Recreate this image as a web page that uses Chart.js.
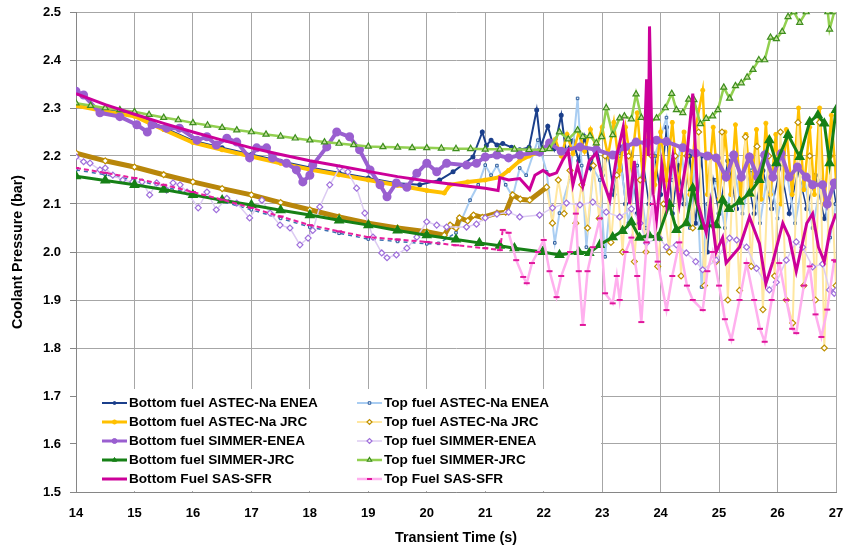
<!DOCTYPE html>
<html lang="en">
<head>
<meta charset="UTF-8">
<title>Coolant pressure</title>
<script src="https://cdn.jsdelivr.net/npm/chart.js"></script>
<style>
    html, body { margin: 0; padding: 0; background: #fff; }
    #wrap { width: 845px; height: 551px; position: relative; }
</style>
</head>
<body>
<div id="wrap"><canvas id="chart"></canvas></div>
<script>
// [time (s), pressure (bar)]
const bottomAstecEnea = [[14,2.309],[14.5,2.297],[15,2.287],[15.5,2.259],[16,2.232],[16.5,2.217],[17,2.203],[17.5,2.189],[18,2.176],[18.5,2.165],[19,2.154],[19.5,2.143],[19.88,2.140],[20.22,2.150],[20.45,2.167],[20.79,2.198],[20.95,2.250],[21.02,2.222],[21.1,2.233],[21.2,2.223],[21.3,2.226],[21.45,2.218],[21.59,2.213],[21.75,2.218],[21.88,2.296],[21.95,2.220],[22.07,2.262],[22.18,2.215],[22.3,2.285],[22.38,2.210],[22.5,2.232],[22.6,2.190],[22.7,2.240],[22.8,2.175],[22.9,2.222],[23.0,2.160],[23.1,2.205],[23.2,2.120],[23.3,2.220],[23.4,2.100],[23.5,2.200],[23.6,2.080],[23.7,2.190],[23.8,2.100],[23.9,2.200],[24.0,2.120],[24.1,2.260],[24.2,2.080],[24.3,2.180],[24.4,2.100],[24.5,2.200],[24.6,2.060],[24.7,2.200],[24.8,2.000],[24.9,2.150],[25.0,2.080],[25.15,2.190],[25.3,2.090],[25.45,2.180],[25.6,2.080],[25.75,2.170],[25.9,2.090],[26.05,2.180],[26.2,2.080],[26.35,2.170],[26.5,2.090],[26.65,2.160],[26.8,2.070],[26.95,2.140],[27,2.100]];

const topAstecEnea = [[14,2.171],[14.5,2.161],[15,2.150],[15.5,2.136],[16,2.121],[16.5,2.105],[17,2.088],[17.5,2.070],[18,2.052],[18.5,2.039],[19,2.027],[19.5,2.022],[20,2.017],[20.2,2.018],[20.5,2.040],[20.74,2.108],[20.88,2.140],[21.0,2.181],[21.1,2.160],[21.2,2.180],[21.35,2.140],[21.47,2.115],[21.59,2.175],[21.7,2.160],[21.9,2.233],[22.05,2.167],[22.19,2.019],[22.27,2.081],[22.45,2.154],[22.58,2.320],[22.65,2.180],[22.73,2.010],[22.85,2.173],[22.96,2.150],[23.05,1.990],[23.15,2.120],[23.3,2.200],[23.45,2.060],[23.6,2.180],[23.75,2.050],[23.9,2.200],[24.1,2.280],[24.2,2.150],[24.35,2.220],[24.5,2.050],[24.6,2.200],[24.7,1.927],[24.8,2.100],[24.95,2.150],[25.1,2.050],[25.25,2.180],[25.4,2.080],[25.55,2.170],[25.7,2.060],[25.85,2.180],[26.0,2.070],[26.15,2.170],[26.3,2.060],[26.45,2.160],[26.6,2.050],[26.75,2.150],[26.9,2.030],[27,2.100]];

const bottomAstecJrc = [[14,2.305],[14.5,2.293],[15,2.283],[15.5,2.255],[16,2.228],[16.5,2.213],[17,2.199],[17.5,2.185],[18,2.172],[18.5,2.161],[19,2.150],[19.5,2.139],[20,2.128],[20.3,2.123],[20.4,2.140],[20.7,2.146],[21.0,2.150],[21.25,2.156],[21.4,2.170],[21.59,2.190],[21.75,2.200],[21.93,2.210],[22.1,2.220],[22.2,2.235],[22.3,2.200],[22.4,2.245],[22.5,2.205],[22.6,2.250],[22.7,2.210],[22.8,2.255],[22.9,2.215],[23.0,2.260],[23.1,2.200],[23.2,2.270],[23.3,2.170],[23.4,2.260],[23.5,2.180],[23.6,2.290],[23.7,2.150],[23.8,2.270],[23.9,2.140],[24.0,2.250],[24.1,2.150],[24.2,2.270],[24.3,2.130],[24.4,2.250],[24.5,2.120],[24.6,2.260],[24.72,2.337],[24.8,2.120],[24.9,2.260],[25.0,2.110],[25.1,2.250],[25.2,2.120],[25.28,2.265],[25.37,2.110],[25.46,2.245],[25.55,2.120],[25.64,2.255],[25.72,2.110],[25.8,2.268],[25.88,2.120],[25.97,2.245],[26.06,2.100],[26.15,2.255],[26.25,2.120],[26.36,2.300],[26.45,2.130],[26.55,2.260],[26.63,2.120],[26.72,2.300],[26.8,2.100],[26.92,2.285],[27,2.150]];

const topAstecJrc = [[14,2.206],[14.5,2.190],[15,2.177],[15.5,2.161],[16,2.146],[16.5,2.132],[17,2.119],[17.5,2.103],[18,2.088],[18.5,2.073],[19,2.060],[19.5,2.050],[20,2.042],[20.3,2.035],[20.4,2.056],[20.5,2.050],[20.56,2.071],[20.7,2.065],[20.8,2.077],[20.95,2.072],[21.2,2.081],[21.35,2.083],[21.47,2.119],[21.6,2.110],[21.76,2.108],[22.05,2.135],[22.15,2.060],[22.25,2.150],[22.35,2.080],[22.45,2.170],[22.55,2.060],[22.65,2.140],[22.75,2.050],[22.85,2.180],[22.95,2.070],[23.05,2.200],[23.15,2.020],[23.25,2.160],[23.35,2.000],[23.45,2.200],[23.55,1.980],[23.65,2.150],[23.75,2.000],[23.85,2.200],[23.95,1.970],[24.05,2.100],[24.15,2.000],[24.25,2.200],[24.35,1.950],[24.45,2.200],[24.55,2.050],[24.65,2.250],[24.75,1.930],[24.85,2.200],[24.95,1.980],[25.05,2.250],[25.15,1.900],[25.25,2.200],[25.35,1.920],[25.45,2.240],[25.55,1.970],[25.65,2.220],[25.75,1.880],[25.85,2.200],[25.95,1.950],[26.05,2.250],[26.15,1.900],[26.26,1.852],[26.35,2.270],[26.45,1.930],[26.55,2.200],[26.65,1.900],[26.72,2.270],[26.8,1.800],[26.9,2.200],[27,1.930]];

const bottomSimmerEnea = [[14,2.335],[14.13,2.327],[14.41,2.290],[14.75,2.282],[15.04,2.265],[15.22,2.250],[15.3,2.265],[15.55,2.258],[15.77,2.258],[16.07,2.233],[16.24,2.240],[16.4,2.223],[16.58,2.237],[16.75,2.229],[16.97,2.196],[17.09,2.217],[17.26,2.217],[17.36,2.196],[17.6,2.185],[17.77,2.171],[17.88,2.146],[18.0,2.160],[18.05,2.181],[18.29,2.219],[18.46,2.250],[18.68,2.240],[18.85,2.213],[19.03,2.171],[19.2,2.140],[19.32,2.115],[19.48,2.144],[19.66,2.135],[19.83,2.164],[20.0,2.185],[20.17,2.167],[20.34,2.185],[20.68,2.181],[20.85,2.185],[21.0,2.198],[21.2,2.202],[21.4,2.196],[21.59,2.202],[21.93,2.208],[22.1,2.227],[22.3,2.210],[22.62,2.219],[22.9,2.213],[23.18,2.202],[23.4,2.219],[23.58,2.229],[23.76,2.227],[23.93,2.233],[24.1,2.230],[24.38,2.217],[24.6,2.206],[24.8,2.200],[24.95,2.196],[25.12,2.156],[25.25,2.202],[25.38,2.156],[25.52,2.198],[25.66,2.156],[25.78,2.202],[25.92,2.156],[26.06,2.205],[26.2,2.156],[26.34,2.177],[26.49,2.156],[26.6,2.140],[26.77,2.140],[26.85,2.100],[26.97,2.144],[27,2.140]];

const topSimmerEnea = [[14,2.198],[14.13,2.188],[14.24,2.185],[14.41,2.171],[14.5,2.175],[14.63,2.160],[14.8,2.150],[14.97,2.146],[15.13,2.146],[15.26,2.119],[15.38,2.144],[15.55,2.129],[15.66,2.144],[15.78,2.140],[15.9,2.125],[16.09,2.092],[16.24,2.125],[16.4,2.088],[16.58,2.112],[16.75,2.102],[16.97,2.071],[17.18,2.108],[17.32,2.081],[17.49,2.056],[17.66,2.050],[17.83,2.015],[17.97,2.029],[18.05,2.045],[18.17,2.094],[18.34,2.140],[18.51,2.175],[18.65,2.167],[18.8,2.133],[18.94,2.081],[19.08,2.031],[19.23,1.998],[19.32,1.988],[19.48,1.994],[19.66,2.008],[19.83,2.031],[20.0,2.063],[20.17,2.056],[20.34,2.052],[20.68,2.052],[20.85,2.058],[21.0,2.071],[21.2,2.079],[21.4,2.083],[21.59,2.073],[21.93,2.077],[22.15,2.092],[22.39,2.102],[22.62,2.098],[22.84,2.104],[23.07,2.083],[23.3,2.073],[23.5,2.090],[23.65,2.060],[23.76,2.019],[23.98,2.029],[24.1,2.010],[24.27,2.015],[24.44,1.998],[24.6,1.980],[24.72,1.963],[24.95,1.983],[25.18,2.029],[25.3,2.025],[25.47,2.010],[25.64,1.966],[25.86,1.921],[25.98,1.937],[26.15,1.983],[26.32,2.021],[26.43,2.010],[26.6,1.969],[26.77,1.975],[26.89,1.921],[26.97,1.914],[27,1.920]];

const bottomSimmerJrc = [[14,2.158],[14.5,2.149],[15,2.140],[15.5,2.130],[16,2.119],[16.5,2.108],[17,2.098],[17.5,2.087],[18,2.077],[18.5,2.066],[19,2.056],[19.5,2.045],[20,2.035],[20.5,2.026],[20.9,2.019],[21.25,2.013],[21.5,2.008],[21.98,2.000],[22.27,1.994],[22.6,2.000],[22.78,1.998],[22.96,2.015],[23.18,2.031],[23.35,2.044],[23.5,2.062],[23.64,2.030],[23.8,2.035],[23.95,2.030],[24.15,2.100],[24.27,2.046],[24.44,2.060],[24.55,2.133],[24.72,2.053],[24.95,2.056],[25.06,2.108],[25.17,2.090],[25.35,2.105],[25.52,2.122],[25.69,2.150],[25.86,2.233],[25.98,2.185],[26.18,2.244],[26.38,2.198],[26.55,2.271],[26.69,2.285],[26.8,2.268],[26.89,2.185],[27,2.296]];

const topSimmerJrc = [[14,2.310],[14.25,2.305],[14.5,2.300],[14.75,2.296],[15,2.292],[15.25,2.286],[15.5,2.280],[15.75,2.275],[16,2.269],[16.25,2.264],[16.5,2.259],[16.75,2.254],[17,2.250],[17.25,2.245],[17.5,2.241],[17.75,2.237],[18,2.233],[18.25,2.229],[18.5,2.226],[18.75,2.223],[19,2.220],[19.25,2.219],[19.5,2.218],[19.75,2.217],[20,2.217],[20.25,2.216],[20.5,2.215],[20.75,2.215],[21,2.214],[21.25,2.214],[21.5,2.214],[21.75,2.213],[21.98,2.213],[22.1,2.215],[22.27,2.250],[22.42,2.235],[22.58,2.254],[22.67,2.240],[22.79,2.242],[22.9,2.227],[22.99,2.240],[23.07,2.300],[23.18,2.244],[23.3,2.279],[23.38,2.283],[23.5,2.277],[23.58,2.329],[23.67,2.280],[23.8,2.269],[23.93,2.279],[24.08,2.300],[24.19,2.330],[24.27,2.296],[24.38,2.290],[24.48,2.318],[24.57,2.317],[24.68,2.267],[24.78,2.278],[24.89,2.283],[24.98,2.296],[25.08,2.343],[25.18,2.320],[25.28,2.346],[25.38,2.352],[25.48,2.364],[25.58,2.380],[25.68,2.400],[25.78,2.400],[25.88,2.447],[25.98,2.444],[26.08,2.459],[26.18,2.490],[26.28,2.500],[26.38,2.478],[26.49,2.500],[26.6,2.530],[26.75,2.530],[26.86,2.500],[26.89,2.464],[26.97,2.500],[27,2.520]];

const bottomSas = [[14,2.330],[14.5,2.307],[15,2.287],[15.5,2.268],[16,2.250],[16.5,2.233],[17,2.217],[17.5,2.203],[18,2.190],[18.5,2.179],[19,2.168],[19.5,2.157],[20,2.148],[20.5,2.140],[21,2.133],[21.22,2.128],[21.25,2.155],[21.4,2.150],[21.59,2.153],[21.76,2.130],[21.85,2.160],[21.99,2.170],[22.1,2.160],[22.22,2.165],[22.32,2.190],[22.42,2.210],[22.5,2.140],[22.58,2.180],[22.67,2.137],[22.78,2.190],[22.9,2.206],[23.01,2.150],[23.13,2.108],[23.25,2.200],[23.36,2.260],[23.47,2.100],[23.55,2.190],[23.64,2.046],[23.7,2.150],[23.76,2.360],[23.79,2.200],[23.81,2.470],[23.87,2.120],[23.93,2.067],[24.02,2.180],[24.1,2.100],[24.21,2.200],[24.32,2.100],[24.44,2.190],[24.55,2.330],[24.64,2.100],[24.78,2.040],[24.85,2.100],[24.95,2.000],[25.06,2.030],[25.12,1.977],[25.35,2.010],[25.52,2.073],[25.69,2.018],[25.8,1.934],[25.92,1.980],[26.09,2.060],[26.2,2.031],[26.32,1.960],[26.5,2.060],[26.6,2.080],[26.7,2.010],[26.8,1.980],[26.9,2.046],[27,2.080]];

const topSas = [[14,2.175],[14.5,2.165],[15,2.154],[15.5,2.140],[16,2.125],[16.5,2.109],[17,2.092],[17.5,2.074],[18,2.056],[18.5,2.043],[19,2.031],[19.5,2.026],[20,2.021],[20.5,2.014],[21,2.008],[21.25,2.004],[21.3,2.046],[21.4,2.040],[21.53,1.983],[21.65,1.948],[21.71,1.935],[21.8,1.977],[21.9,2.000],[22.0,2.025],[22.1,1.960],[22.22,1.906],[22.3,1.950],[22.45,2.000],[22.55,2.080],[22.6,1.960],[22.67,1.848],[22.75,1.960],[22.84,2.010],[22.96,2.070],[23.05,1.914],[23.18,1.893],[23.25,1.950],[23.3,1.900],[23.4,2.000],[23.5,2.030],[23.6,1.950],[23.67,1.854],[23.76,2.020],[23.86,2.100],[23.95,1.980],[24.1,1.879],[24.2,1.950],[24.32,2.020],[24.45,1.930],[24.55,1.900],[24.72,1.879],[24.8,1.960],[24.89,2.000],[25.0,1.930],[25.1,1.860],[25.21,1.817],[25.35,1.900],[25.47,1.977],[25.6,1.900],[25.7,1.840],[25.78,1.813],[25.9,1.900],[26.03,1.977],[26.15,1.900],[26.25,1.840],[26.32,1.831],[26.45,1.930],[26.55,1.970],[26.65,1.870],[26.75,1.823],[26.85,1.880],[26.97,1.983],[27,1.980]];

const xTicks = [14, 15, 16, 17, 18, 19, 20, 21, 22, 23, 24, 25, 26, 27];
const yTicks = [1.5, 1.6, 1.7, 1.8, 1.9, 2.0, 2.1, 2.2, 2.3, 2.4, 2.5];

const FONT = '"Liberation Sans", Arial, sans-serif';

function pts(arr) {
    return arr.map(d => ({ x: d[0], y: d[1] }));
}

// early (dense marker) stretch styled like the reference
function before(limit, early) {
    return ctx => ctx.p0.parsed.x < limit ? early : undefined;
}
function after(limit, late) {
    return ctx => ctx.p0.parsed.x >= limit ? late : undefined;
}

const datasets = [
    {
        label: 'Bottom fuel ASTEC-Na ENEA', data: pts(bottomAstecEnea), order: 10,
        borderColor: '#1B3F8B', borderWidth: 2,
        segment: { borderWidth: after(23, 1.5) },
        pointStyle: 'circle', pointRadius: 1.5, pointBackgroundColor: '#1B3F8B', pointBorderColor: '#1B3F8B',
        legendCol: 0, legendRow: 0
    },
    {
        label: 'Top fuel ASTEC-Na ENEA', data: pts(topAstecEnea), order: 9,
        borderColor: '#A9CDF2', borderWidth: 2,
        segment: { borderColor: before(20.3, '#3A6FB0'), borderDash: before(20.3, [4, 4]), borderWidth: before(20.3, 1.5) },
        pointStyle: 'rect', pointRadius: 1.8, pointBackgroundColor: '#DDEBF7', pointBorderColor: '#2F5E9E', pointBorderWidth: 1,
        legendCol: 1, legendRow: 0
    },
    {
        label: 'Bottom fuel ASTEC-Na JRC', data: pts(bottomAstecJrc), order: 8,
        borderColor: '#FFC000', borderWidth: 4,
        segment: { borderWidth: after(22.2, 2.5) },
        pointStyle: 'star', pointRadius: 2.5, pointBorderColor: '#FFC000', pointBackgroundColor: '#FFC000', pointBorderWidth: 1.5,
        legendCol: 0, legendRow: 1
    },
    {
        label: 'Top fuel ASTEC-Na JRC', data: pts(topAstecJrc), order: 7,
        borderColor: '#FFE7A0', borderWidth: 2,
        segment: { borderColor: before(22.05, '#B8860B'), borderWidth: before(22.05, 5) },
        pointStyle: 'rectRot', pointRadius: 3, pointBackgroundColor: '#FFFFFF', pointBorderColor: '#BF9000', pointBorderWidth: 1.2,
        legendCol: 1, legendRow: 1
    },
    {
        label: 'Bottom fuel SIMMER-ENEA', data: pts(bottomSimmerEnea), order: 6,
        borderColor: '#9A5FD0', borderWidth: 4,
        pointStyle: 'circle', pointRadius: 2.5, pointBackgroundColor: '#9A5FD0', pointBorderColor: '#9A5FD0',
        legendCol: 0, legendRow: 2
    },
    {
        label: 'Top fuel SIMMER-ENEA', data: pts(topSimmerEnea), order: 5,
        borderColor: '#DCCBF2', borderWidth: 1.5,
        pointStyle: 'rectRot', pointRadius: 3, pointBackgroundColor: '#FFFFFF', pointBorderColor: '#9F6FDB', pointBorderWidth: 1.2,
        legendCol: 1, legendRow: 2
    },
    {
        label: 'Bottom fuel SIMMER-JRC', data: pts(bottomSimmerJrc), order: 4,
        borderColor: '#168016', borderWidth: 3,
        pointStyle: 'triangle', pointRadius: 3.2, pointBackgroundColor: '#168016', pointBorderColor: '#168016',
        legendCol: 0, legendRow: 3
    },
    {
        label: 'Top fuel SIMMER-JRC', data: pts(topSimmerJrc), order: 3,
        borderColor: '#92D050', borderWidth: 2.5,
        pointStyle: 'triangle', pointRadius: 3.5, pointBackgroundColor: '#C6E0A0', pointBorderColor: '#3E8E1E', pointBorderWidth: 1.2,
        legendCol: 1, legendRow: 3
    },
    {
        label: 'Bottom Fuel SAS-SFR', data: pts(bottomSas), order: 2,
        borderColor: '#CC0099', borderWidth: 3, pointRadius: 0,
        legendCol: 0, legendRow: 4
    },
    {
        label: 'Top Fuel SAS-SFR', data: pts(topSas), order: 1,
        borderColor: '#FFB0EE', borderWidth: 2.5,
        segment: { borderColor: before(21.26, '#E8209F'), borderDash: before(21.26, [5, 3]), borderWidth: before(21.26, 2) },
        pointStyle: 'line', pointRadius: 3, pointBorderColor: '#E0179B', pointBorderWidth: 2,
        legendCol: 1, legendRow: 4
    }
];

datasets.forEach(d => { d.tension = 0; d.fill = false; d.pointHoverRadius = 0; });

// legend box inside the plot, two columns, white background
const boxLegend = {
    id: 'boxLegend',
    afterDraw(chart) {
        const ctx = chart.ctx;
        const a = chart.chartArea;
        ctx.save();
        ctx.fillStyle = '#ffffff';
        ctx.fillRect(a.left + 1, 389, 524, a.bottom - 389 - 1);
        ctx.font = 'bold 13.6px ' + FONT;
        ctx.textBaseline = 'middle';
        ctx.textAlign = 'left';
        chart.data.datasets.forEach(d => {
            const x0 = d.legendCol === 0 ? 102 : 357;
            const y = 403 + d.legendRow * 19;
            ctx.strokeStyle = d.borderColor;
            ctx.lineWidth = Math.min(d.borderWidth, 3);
            ctx.setLineDash([]);
            ctx.beginPath();
            ctx.moveTo(x0, y);
            ctx.lineTo(x0 + 25, y);
            ctx.stroke();
            if (d.pointRadius > 0 && Chart.helpers && Chart.helpers.drawPoint) {
                ctx.fillStyle = d.pointBackgroundColor || '#fff';
                ctx.strokeStyle = d.pointBorderColor || d.borderColor;
                ctx.lineWidth = d.pointBorderWidth || 1;
                Chart.helpers.drawPoint(ctx, {
                    pointStyle: d.pointStyle, radius: Math.min(d.pointRadius, 2.5),
                    rotation: 0, borderWidth: d.pointBorderWidth || 1
                }, x0 + 12.5, y);
            }
            ctx.fillStyle = '#000';
            ctx.fillText(d.label, x0 + 27, y + 0.5);
        });
        ctx.restore();
    }
};

new Chart(document.getElementById('chart'), {
    type: 'line',
    data: { datasets: datasets },
    plugins: [boxLegend],
    options: {
        responsive: true,
        maintainAspectRatio: false,
        animation: false,
        devicePixelRatio: 1,
        layout: { padding: { top: 12, right: 9, left: 0, bottom: 0 } },
        plugins: { legend: { display: false }, tooltip: { enabled: false } },
        scales: {
            x: {
                type: 'linear', min: 14, max: 27,
                afterBuildTicks: s => { s.ticks = xTicks.map(v => ({ value: v })); },
                afterFit: s => { s.height = 59; s.paddingLeft = 0; s.paddingRight = 0; },
                grid: { color: '#A6A6A6', lineWidth: 1, drawTicks: false },
                border: { color: '#868686', width: 1 },
                ticks: { color: '#000', font: { family: FONT, size: 13, weight: 'bold' }, padding: 14, maxRotation: 0 },
                title: { display: true, text: 'Transient Time (s)', color: '#000', font: { family: FONT, size: 14.3, weight: 'bold' }, padding: { top: 3 } }
            },
            y: {
                type: 'linear', min: 1.5, max: 2.5,
                afterBuildTicks: s => { s.ticks = yTicks.map(v => ({ value: v })); },
                afterFit: s => { s.width = 76; s.paddingTop = 0; s.paddingBottom = 0; },
                grid: { color: '#A6A6A6', lineWidth: 1, tickLength: 6, tickColor: '#868686' },
                border: { color: '#868686', width: 1 },
                ticks: { color: '#000', font: { family: FONT, size: 13, weight: 'bold' }, padding: 9, callback: v => v.toFixed(1) },
                title: { display: true, text: 'Coolant Pressure (bar)', color: '#000', font: { family: FONT, size: 14.3, weight: 'bold' }, padding: { top: 9, bottom: 0 } }
            }
        }
    }
});
</script>
</body>
</html>
